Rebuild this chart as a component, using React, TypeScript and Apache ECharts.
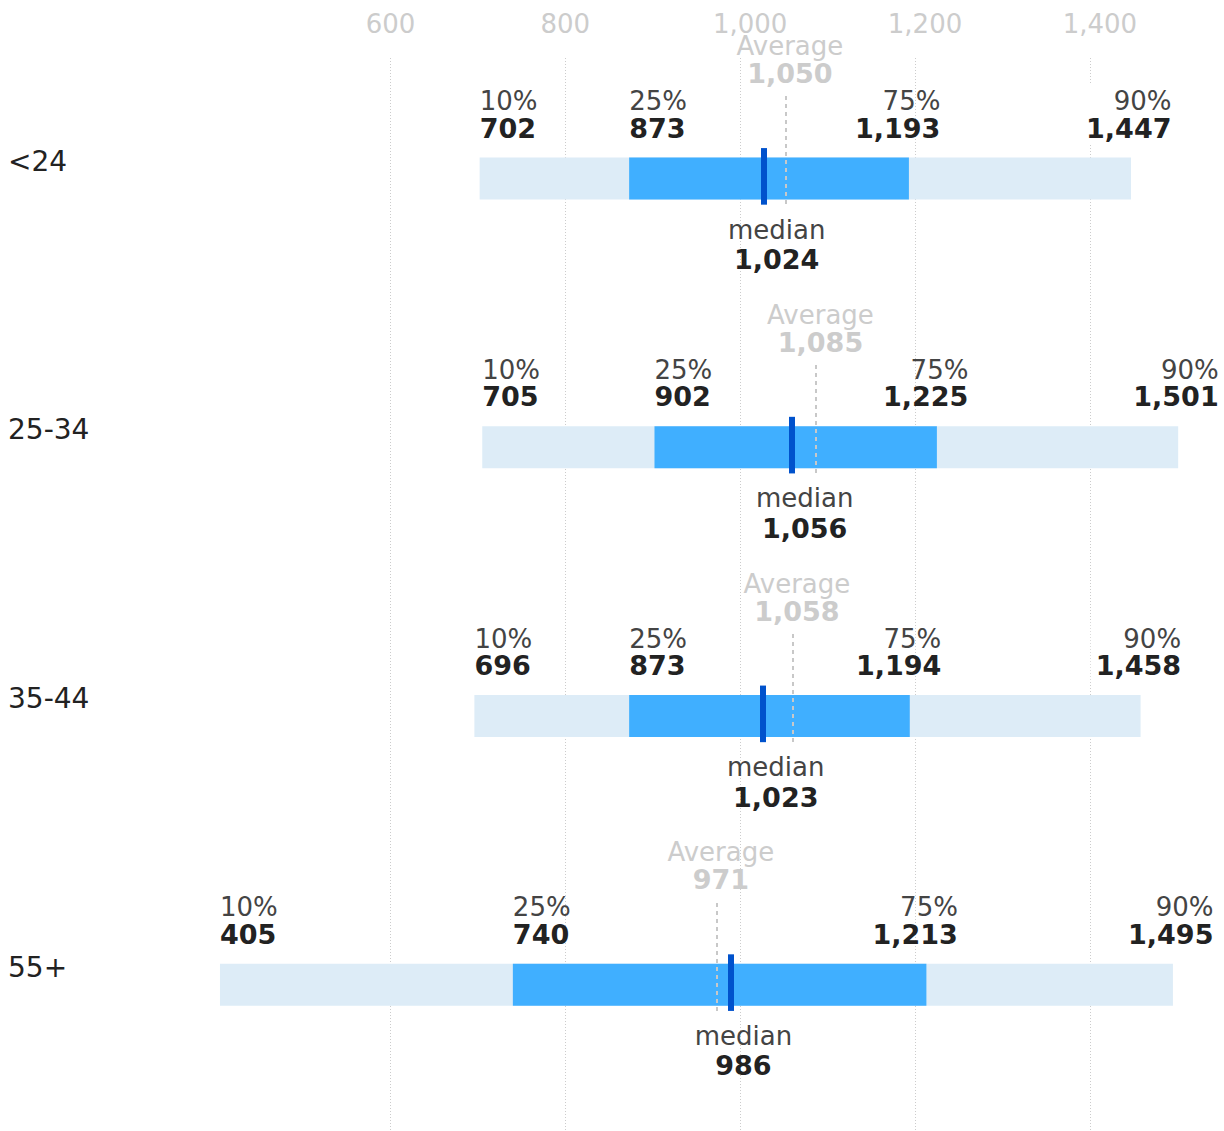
import React, { useEffect, useRef } from 'react';
import * as echarts from 'echarts';

const categories = ['<24', '25-34', '35-44', '55+'];
const p10 = [702, 705, 696, 405];
const p25 = [873, 902, 873, 740];
const median = [1024, 1056, 1023, 986];
const p75 = [1193, 1225, 1194, 1213];
const p90 = [1447, 1501, 1458, 1495];
const average = [1050, 1085, 1058, 971];
const shownTicks = [600, 800, 1000, 1200, 1400];

const X_MIN = 400;
const X_MAX = 1520;
const X_INTERVAL = 200;

const W = 1224;
const H = 1131;
const GRID_LEFT = 215.6;
const GRID_RIGHT = 29.2;
const FONT = 'DejaVu Sans';

const LIGHT = 'rgb(221,236,247)';
const MID = 'rgb(64,175,255)';
const DARK = 'rgb(0,82,204)';

const fmt = (v: number) => Number(v).toLocaleString('en-US');

export default function App() {
  const ref = useRef<HTMLDivElement>(null);

  useEffect(() => {
    document.body.style.margin = '0';
    if (!ref.current) return;
    const chart = echarts.init(ref.current, undefined, { renderer: 'svg' });

    const data = categories.map((_, i) => [i, p10[i], p25[i], median[i], p75[i], p90[i], average[i]]);

    const pctLabel = (x: number, y: number, align: string, pct: string, val: number, bg: boolean) => ({
      type: 'text',
      x,
      y,
      style: {
        text: `{p|${pct}}\n{v|${fmt(val)}}`,
        align,
        verticalAlign: 'middle',
        backgroundColor: bg ? '#fff' : undefined,
        padding: bg ? [3, 5, 3, 5] : 0,
        rich: {
          p: { fontSize: 26, fontFamily: FONT, fill: '#444', lineHeight: 27, align },
          v: { fontSize: 27, fontFamily: FONT, fontWeight: 'bold', fill: '#222', lineHeight: 27, align },
        },
      },
    });

    const renderItem = (params: any, api: any) => {
      const i = api.value(0);
      const v10 = api.value(1);
      const v25 = api.value(2);
      const vm = api.value(3);
      const v75 = api.value(4);
      const v90 = api.value(5);
      const va = api.value(6);
      const X = (v: number) => api.coord([v, i])[0];
      const yc = api.coord([v10, i])[1];
      const barH = 42;
      const ax = Math.round(X(va)) + 2;
      return {
        type: 'group',
        children: [
          {
            type: 'rect',
            shape: { x: X(v10), y: yc - barH / 2, width: X(v90) - X(v10), height: barH },
            style: { fill: LIGHT },
          },
          {
            type: 'rect',
            shape: { x: X(v25), y: yc - barH / 2, width: X(v75) - X(v25), height: barH },
            style: { fill: MID },
          },
          {
            type: 'line',
            shape: { x1: ax, y1: Math.round(yc - 82), x2: ax, y2: Math.round(yc + 29) },
            style: { stroke: '#c8c8c8', lineWidth: 2, lineDash: [4, 4] },
          },
          {
            type: 'rect',
            shape: { x: Math.round(X(vm)), y: yc - 30.3, width: 6, height: 56.6 },
            style: { fill: DARK },
          },
          pctLabel(X(v10), yc - 63.7, 'left', '10%', v10, false),
          pctLabel(X(v25), yc - 63.7, 'left', '25%', v25, false),
          pctLabel(X(v75) + 31.5, yc - 63.7, 'right', '75%', v75, false),
          pctLabel(X(v90) + 40.5 + 5, yc - 63.7, 'right', '90%', v90, true),
          {
            type: 'text',
            x: X(vm) + 15.5,
            y: yc + 66.2,
            style: {
              text: `{p|median}\n{v|${fmt(vm)}}`,
              align: 'center',
              verticalAlign: 'middle',
              rich: {
                p: { fontSize: 26, fontFamily: FONT, fill: '#444', lineHeight: 30, align: 'center' },
                v: { fontSize: 27, fontFamily: FONT, fontWeight: 'bold', fill: '#222', lineHeight: 30, align: 'center' },
              },
            },
          },
          {
            type: 'text',
            x: X(va) + 6,
            y: yc - 118.5,
            style: {
              text: `{p|Average}\n{v|${fmt(va)}}`,
              align: 'center',
              verticalAlign: 'middle',
              rich: {
                p: { fontSize: 26, fontFamily: FONT, fill: '#ccc', lineHeight: 27.5, align: 'center' },
                v: { fontSize: 27, fontFamily: FONT, fontWeight: 'bold', fill: '#ccc', lineHeight: 27.5, align: 'center' },
              },
            },
          },
        ],
      };
    };

    chart.setOption({
      animation: false,
      grid: [
        { left: GRID_LEFT, right: GRID_RIGHT, top: 58, bottom: 0, containLabel: false, outerBoundsMode: 'none' },
        { left: GRID_LEFT, right: GRID_RIGHT, top: 44, bottom: 12, containLabel: false, outerBoundsMode: 'none' },
      ],
      xAxis: [
        {
          type: 'value',
          gridIndex: 0,
          position: 'top',
          min: X_MIN,
          max: X_MAX,
          interval: X_INTERVAL,
          axisLine: { show: false },
          axisTick: { show: false },
          axisLabel: {
            formatter: (v: number) => {
              if (!shownTicks.includes(v)) return '';
              return v >= 1000 ? `{w|${fmt(v)}}` : `{n|${fmt(v)}}`;
            },
            color: '#ccc',
            fontSize: 26,
            fontFamily: FONT,
            margin: 34,
            verticalAlign: 'middle',
            rich: {
              n: { color: '#ccc', fontSize: 26, fontFamily: FONT },
              w: { color: '#ccc', fontSize: 26, fontFamily: FONT, padding: [0, 0, 0, 20] },
            },
          },
          splitLine: {
            show: true,
            showMinLine: false,
            showMaxLine: false,
            lineStyle: { color: '#ccc', width: 1, type: [1, 2] },
          },
        },
        {
          type: 'value',
          gridIndex: 1,
          min: X_MIN,
          max: X_MAX,
          show: false,
          splitLine: { show: false },
        },
      ],
      yAxis: [
        { type: 'value', gridIndex: 0, show: false, splitLine: { show: false } },
        {
          type: 'category',
          gridIndex: 1,
          data: categories,
          inverse: true,
          axisLine: { show: false },
          axisTick: { show: false },
          splitLine: { show: false },
          axisLabel: {
            align: 'left',
            verticalAlign: 'bottom',
            lineHeight: 34.4,
            margin: GRID_LEFT - 8,
            color: '#222',
            fontSize: 28,
            fontFamily: FONT,
          },
        },
      ],
      series: [
        {
          type: 'custom',
          xAxisIndex: 1,
          yAxisIndex: 1,
          data,
          encode: { x: [1, 2, 3, 4, 5, 6], y: 0 },
          renderItem,
          clip: false,
        },
      ],
    });

    return () => chart.dispose();
  }, []);

  return (
    <div
      ref={ref}
      style={{ position: 'absolute', left: 0, top: 0, width: W, height: H, background: '#fff' }}
    />
  );
}
